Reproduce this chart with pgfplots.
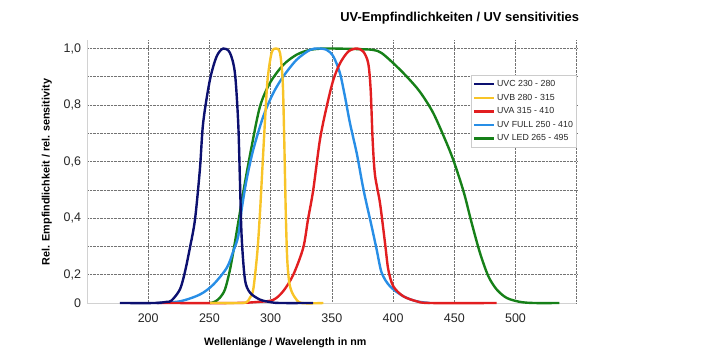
\documentclass[border=0pt]{standalone}
\usepackage{fontspec}
\setmainfont{Liberation Sans}
\usepackage{pgfplots}
\pgfplotsset{compat=1.18}
\definecolor{cuvc}{RGB}{12,16,112}
\definecolor{cuvb}{RGB}{248,196,40}
\definecolor{cuva}{RGB}{226,30,32}
\definecolor{cfull}{RGB}{40,142,230}
\definecolor{cled}{RGB}{22,128,24}
\begin{document}
\begin{tikzpicture}[x=1bp,y=1bp]
\useasboundingbox (0,0) rectangle (706,355);
\begin{axis}[
 at={(87bp,52bp)}, anchor=south west,
 scale only axis, width=489.7bp, height=263bp,
 xmin=150, xmax=550, ymin=0.1, ymax=1.03,
 clip=false,
 axis lines*=left,
 axis line style={gray!35, line width=0.8bp},
 xtick={200,250,...,500}, xticklabels={200,250,300,350,400,450,500},
 extra x ticks={550}, extra x tick labels={},
 ytick={0.2,0.4,0.6,0.8,1.0}, yticklabels={{0,2},{0,4},{0,6},{0,8},{1,0}},
 extra y ticks={0.1}, extra y tick labels={0},
 extra y tick style={grid=none},
 minor ytick={0.3,0.5,0.7,0.9},
 major tick length=0pt, minor tick length=0pt,
 grid=both,
 major grid style={densely dotted, black!55, line width=0.6bp},
 minor grid style={densely dotted, black!55, line width=0.6bp},
 tick label style={font=\fontsize{12.5bp}{14bp}\selectfont, text=black!85},
 xticklabel style={yshift=-7.5bp},
 yticklabel style={xshift=-2.5bp},
 title={UV-Empfindlichkeiten / UV sensitivities},
 title style={at={(axis description cs:0.761,1.091)}, anchor=center, yshift=-8.5bp, font=\bfseries\fontsize{12.9bp}{15bp}\selectfont},
 xlabel={Wellenlänge / Wavelength in nm},
 xlabel style={at={(axis description cs:0.405,-0.152)}, anchor=center, font=\bfseries\fontsize{10.7bp}{13bp}\selectfont},
 ylabel={Rel. Empfindlichkeit / rel. sensitivity},
 ylabel style={at={(axis description cs:-0.082,0.498)}, anchor=center, font=\bfseries\fontsize{10.8bp}{13bp}\selectfont},
 reverse legend,
 legend cell align=left,
 legend style={at={(axis description cs:1,0.867)}, anchor=north east,
   font=\fontsize{8.8bp}{10bp}\selectfont, text=black!85,
   draw=gray!40, line width=0.6bp, inner xsep=2bp, inner ysep=3.5bp,
   row sep=3bp, nodes={inner sep=1.5bp}},
 legend image code/.code={\draw[#1, line width=2.4bp] (0bp,0bp) -- (20bp,0bp);},
 every axis plot/.append style={line width=2.4bp, smooth, tension=0.5},
]
% UV LED
\addplot[cled] table {
250.5 0.10
252 0.101
255 0.106
258.6 0.119
262.7 0.148
266.8 0.218
270.8 0.314
274.9 0.420
279.0 0.525
284.5 0.654
291.3 0.795
299.4 0.878
310.3 0.942
321.2 0.978
332.1 0.995
345 1.0
370 0.998
383.8 0.995
390.6 0.984
400.2 0.948
411.1 0.901
421.9 0.847
432.8 0.772
443.7 0.666
449.1 0.607
454.6 0.536
458.7 0.477
464.2 0.383
471.0 0.277
477.8 0.195
484.6 0.148
492.8 0.118
503.6 0.104
515 0.10
535.8 0.10
};
% UV FULL
\addplot[cfull] table {
207.1 0.10
225.9 0.106
242.2 0.130
253.1 0.165
264.1 0.224
269.5 0.283
273.5 0.336
276.3 0.430
280.4 0.537
285.8 0.642
294.0 0.760
302.1 0.842
310.3 0.901
321.2 0.960
332.1 0.995
338.9 1.0
345.8 0.995
351.2 0.972
356.6 0.913
360.7 0.830
364.8 0.736
370.3 0.630
374.3 0.536
377.0 0.477
382.5 0.371
386.6 0.289
390.7 0.207
397.5 0.159
408.3 0.124
419.3 0.106
430.1 0.10
};
% UVA
\addplot[cuva] table {
207.1 0.10
270 0.10
290 0.104
302.1 0.111
310.3 0.142
318.5 0.20
326.6 0.295
330.5 0.395
334.8 0.50
340.3 0.678
345.8 0.795
351.2 0.889
356.7 0.948
363.4 0.989
370.3 1.0
375.7 0.989
379.7 0.948
381.7 0.854
383.3 0.678
385.2 0.554
389.3 0.454
393.4 0.313
396.1 0.218
400.2 0.159
408.3 0.124
419.3 0.106
430.1 0.10
484.6 0.10
};
% UVB
\addplot[cuvb] table {
250.5 0.10
275 0.10
280.4 0.103
283 0.118
285.8 0.148
289.1 0.278
291.3 0.42
293.3 0.58
295.3 0.738
297.5 0.89
300.8 0.985
304.3 1.0
307.6 0.985
309.8 0.889
310.9 0.72
311.7 0.554
312.5 0.395
313.7 0.243
315.8 0.159
319.9 0.119
325.3 0.10
343.0 0.10
};
% UVC
\addplot[cuvc] table {
176.9 0.10
205 0.10
215 0.104
219.1 0.109
225.9 0.148
230 0.21
234.1 0.296
238.2 0.395
242.2 0.572
244.9 0.738
250.4 0.889
255.9 0.972
261.3 1.0
266.7 0.985
270.8 0.914
273.5 0.738
274.9 0.537
276.3 0.336
279.0 0.184
283.1 0.137
291.3 0.112
300 0.103
307.6 0.10
334.6 0.10
};
\legend{UV LED 265 - 495, UV FULL 250 - 410, UVA 315 - 410, UVB 280 - 315, UVC 230 - 280}
\end{axis}
\end{tikzpicture}
\end{document}
